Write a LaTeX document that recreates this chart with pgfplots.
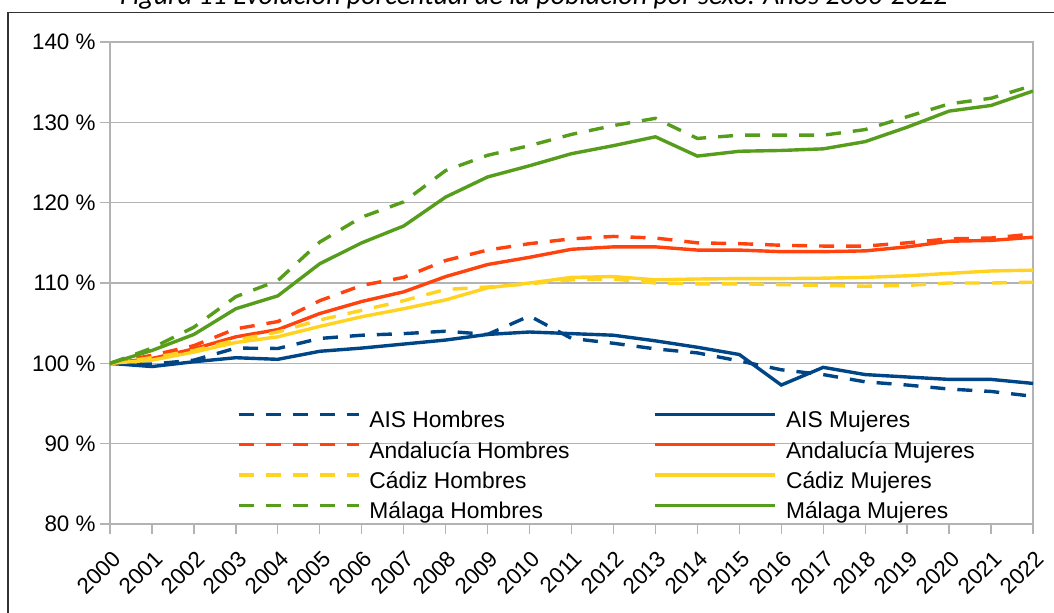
\documentclass[border=0pt]{standalone}
\usepackage{fontspec}
\setmainfont{Liberation Sans}
\newfontfamily\titlefont{Carlito}
\usepackage{pgfplots}
\pgfplotsset{compat=1.18}
\definecolor{cblue}{HTML}{004586}
\definecolor{cred}{HTML}{FF420E}
\definecolor{cyel}{HTML}{FFD320}
\definecolor{cgreen}{HTML}{579D1C}
\definecolor{gridgray}{HTML}{B3B3B3}

\pgfplotstableread{
x aish aism andh andm cadh cadm malh malm
0  100.0 100.0 100.0 100.0 100.0 100.0 100.0 100.0
1  99.9  99.6  101.0 100.6 100.7 100.4 101.9 101.6
2  100.4 100.2 102.2 101.8 101.6 101.4 104.5 103.6
3  101.9 100.7 104.3 103.3 102.9 102.6 108.3 106.8
4  101.85 100.5 105.2 104.2 103.9 103.3 110.3 108.4
5  103.1 101.5 107.8 106.2 105.4 104.6 115.1 112.4
6  103.5 101.9 109.7 107.7 106.6 105.8 118.2 115.0
7  103.7 102.4 110.7 108.9 107.8 106.8 120.1 117.1
8  104.0 102.9 112.8 110.8 109.2 107.9 124.0 120.7
9  103.6 103.6 114.1 112.3 109.5 109.4 125.9 123.2
10 105.9 103.9 114.9 113.2 109.9 110.0 127.1 124.6
11 103.1 103.7 115.5 114.2 110.4 110.7 128.5 126.1
12 102.5 103.5 115.8 114.5 110.5 110.8 129.6 127.1
13 101.8 102.8 115.6 114.5 110.0 110.4 130.5 128.2
14 101.3 102.0 115.0 114.1 109.9 110.5 128.0 125.8
15 100.3 101.1 114.9 114.1 109.9 110.55 128.4 126.4
16 99.2  97.3  114.7 113.9 109.8 110.55 128.4 126.5
17 98.6  99.5  114.6 113.9 109.7 110.6 128.4 126.7
18 97.7  98.6  114.6 114.0 109.6 110.7 129.1 127.6
19 97.3  98.3  115.0 114.5 109.7 110.9 130.7 129.4
20 96.8  98.0  115.5 115.2 110.0 111.2 132.3 131.4
21 96.5  98.0  115.6 115.3 110.0 111.5 133.0 132.1
22 95.9  97.5  116.1 115.7 110.1 111.6 134.6 133.9
}\datatable

\begin{document}
\begin{tikzpicture}
\begin{axis}[
  scale only axis, width=461.5pt, height=241pt,
  xmin=0, xmax=22, ymin=80, ymax=140,
  xtick={0,...,22},
  xticklabels={2000,2001,2002,2003,2004,2005,2006,2007,2008,2009,2010,2011,2012,2013,2014,2015,2016,2017,2018,2019,2020,2021,2022},
  ytick={80,90,...,140},
  yticklabels={80 \%,90 \%,100 \%,110 \%,120 \%,130 \%,140 \%},
  ymajorgrids,
  grid style={gridgray, line width=0.65pt},
  axis line style={gridgray, line width=0.65pt},
  tick style={gridgray, line width=0.65pt},
  tick align=outside, major tick length=5pt,
  xtick pos=bottom, ytick pos=left,
  ticklabel style={font=\fontsize{11.2}{13}\selectfont, text=black},
  xticklabel style={xshift=0.5pt, yshift=-6pt, rotate=45, anchor=north east, inner sep=1pt},
  yticklabel style={inner sep=2pt},
  legend columns=2,
  legend cell align=left,
  legend style={at={(0.1376,0.2324)}, anchor=north west, draw=none, fill=none,
    inner sep=0pt, outer sep=0pt,
    font=\fontsize{11.4}{13}\selectfont,
    nodes={inner sep=0pt, text height=8pt, text depth=2.5pt},
    row sep=4.65pt,
    /tikz/every odd column/.append style={column sep=4.5pt},
    /tikz/every even column/.append style={column sep=42pt}},
  legend image code/.code={\draw[#1] (0pt,4pt) -- (60pt,4pt);},
  every axis plot/.append style={line width=1.7pt},
  hdash/.style={dash pattern=on 7.5pt off 6pt},
]
\coordinate (bl) at (rel axis cs:0,0);
\addplot[cblue, hdash] table[x=x, y=aish] {\datatable};
\addlegendentry{AIS Hombres}
\addplot[cblue] table[x=x, y=aism] {\datatable};
\addlegendentry{AIS Mujeres}
\addplot[cred, hdash] table[x=x, y=andh] {\datatable};
\addlegendentry{Andalucía Hombres}
\addplot[cred] table[x=x, y=andm] {\datatable};
\addlegendentry{Andalucía Mujeres}
\addplot[cyel, hdash] table[x=x, y=cadh] {\datatable};
\addlegendentry{Cádiz Hombres}
\addplot[cyel] table[x=x, y=cadm] {\datatable};
\addlegendentry{Cádiz Mujeres}
\addplot[cgreen, hdash] table[x=x, y=malh] {\datatable};
\addlegendentry{Málaga Hombres}
\addplot[cgreen] table[x=x, y=malm] {\datatable};
\addlegendentry{Málaga Mujeres}
\end{axis}
\draw[line width=0.6pt, black!80] ([shift={(-51pt,-70pt)}]bl) -- ([shift={(-51pt,255.75pt)}]bl) -- ([shift={(490pt,255.75pt)}]bl);
\node[anchor=base, font=\titlefont\itshape\fontsize{14}{16}\selectfont, inner sep=0pt] at ([shift={(212pt,259.5pt)}]bl) {Figura 11 Evolución porcentual de la población por sexo. Años 2000-2022};
\pgfresetboundingbox
\path[use as bounding box] ([shift={(-55pt,-44pt)}]bl) rectangle ([shift={(472pt,262pt)}]bl);
\end{tikzpicture}
\end{document}
